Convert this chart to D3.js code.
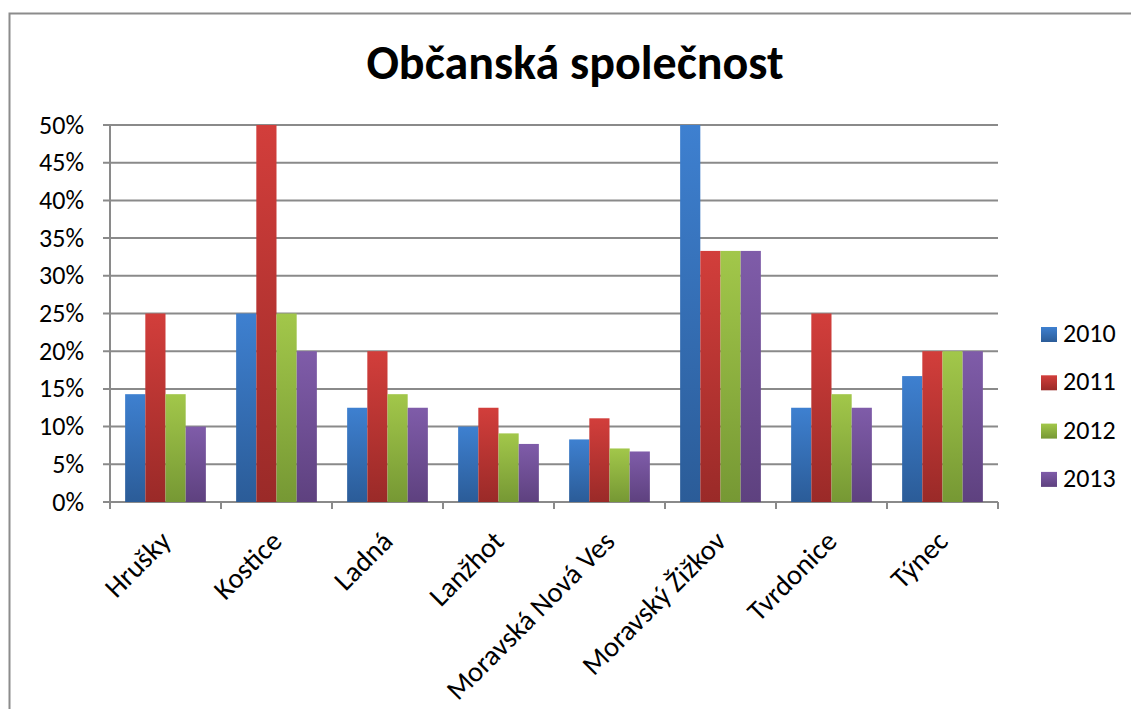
<!DOCTYPE html>
<html>
<head>
<meta charset="utf-8">
<script src="https://cdn.jsdelivr.net/npm/d3@7"></script>
<style>
  body { margin: 0; background: #fff; }
  text { font-family: Carlito, Calibri, "Liberation Sans", sans-serif; }
</style>
</head>
<body>
<svg id="chart" width="1131" height="709"></svg>
<script>
const categories = ['Hrušky', 'Kostice', 'Ladná', 'Lanžhot', 'Moravská Nová Ves', 'Moravský Žižkov', 'Tvrdonice', 'Týnec']
const years = ['2010', '2011', '2012', '2013']
const values2010 = [0.143, 0.25, 0.125, 0.10, 0.083, 0.50, 0.125, 0.167]
const values2011 = [0.25, 0.50, 0.20, 0.125, 0.111, 0.333, 0.25, 0.20]
const values2012 = [0.143, 0.25, 0.143, 0.091, 0.071, 0.333, 0.143, 0.20]
const values2013 = [0.10, 0.20, 0.125, 0.077, 0.067, 0.333, 0.125, 0.20]
const yTicks = [0, 0.05, 0.1, 0.15, 0.2, 0.25, 0.3, 0.35, 0.4, 0.45, 0.5]

const series = [values2010, values2011, values2012, values2013]
// top / bottom colours for the vertical gradient of each year
const colors = [
  ['#3e80d0', '#2b5c98'],
  ['#d23e3b', '#9a2a28'],
  ['#a2c74a', '#769834'],
  ['#7f5ca9', '#5e417f']
]

const svg = d3.select('#chart')
const margins = { left: 110, top: 125, right: 133, bottom: 207 }
const width = 1131 - margins.left - margins.right
const height = 709 - margins.top - margins.bottom

// outer chart frame
svg.append('rect')
  .attr('x', 9.5).attr('y', 13.5)
  .attr('width', 1140).attr('height', 720)
  .attr('fill', 'none')
  .attr('stroke', '#8c8c8c')
  .attr('stroke-width', 2)

const defs = svg.append('defs')
colors.forEach((c, i) => {
  const g = defs.append('linearGradient')
    .attr('id', 'grad' + i)
    .attr('x1', 0).attr('y1', 0).attr('x2', 0).attr('y2', 1)
  g.append('stop').attr('offset', '0%').attr('stop-color', c[0])
  g.append('stop').attr('offset', '100%').attr('stop-color', c[1])
})

svg.append('text')
  .attr('x', 575).attr('y', 79)
  .attr('text-anchor', 'middle')
  .attr('font-size', 48)
  .attr('font-weight', 'bold')
  .text('Občanská společnost')

const wrapper = svg.append('g')
  .attr('transform', `translate(${margins.left}, ${margins.top})`)

const x0 = d3.scaleBand().domain(categories).range([0, width]).paddingInner(0).paddingOuter(0)
const groupWidth = x0.bandwidth() * 8 / 11
const x1 = d3.scaleBand().domain(years).range([0, groupWidth])
const y = d3.scaleLinear().domain([0, 0.5]).range([height, 0])

// gridlines
wrapper.append('g')
  .selectAll('line')
  .data(yTicks)
  .join('line')
  .attr('x1', -7).attr('x2', width)
  .attr('y1', d => y(d)).attr('y2', d => y(d))
  .attr('stroke', '#8a8a8a')
  .attr('stroke-width', 2)

// bars
const groups = wrapper.selectAll('.group')
  .data(categories)
  .join('g')
  .attr('class', 'group')
  .attr('transform', d => `translate(${x0(d) + (x0.bandwidth() - groupWidth) / 2}, 0)`)

groups.selectAll('rect')
  .data((d, i) => series.map((s, j) => ({ year: years[j], v: s[i], j })))
  .join('rect')
  .attr('x', d => x1(d.year))
  .attr('width', x1.bandwidth())
  .attr('y', d => y(d.v))
  .attr('height', d => height - y(d.v))
  .attr('fill', d => `url(#grad${d.j})`)

// axes
wrapper.append('line')
  .attr('x1', 0).attr('x2', 0).attr('y1', 0).attr('y2', height)
  .attr('stroke', '#8a8a8a').attr('stroke-width', 2)

wrapper.append('g')
  .selectAll('line')
  .data(d3.range(categories.length + 1))
  .join('line')
  .attr('x1', i => i * x0.bandwidth()).attr('x2', i => i * x0.bandwidth())
  .attr('y1', height).attr('y2', height + 7)
  .attr('stroke', '#8a8a8a').attr('stroke-width', 2)

wrapper.append('g')
  .selectAll('text')
  .data(yTicks)
  .join('text')
  .attr('x', -26)
  .attr('y', d => y(d) + 8.5)
  .attr('text-anchor', 'end')
  .attr('font-size', 26)
  .text(d => d3.format('.0%')(d))

wrapper.append('g')
  .selectAll('text')
  .data(categories)
  .join('text')
  .attr('text-anchor', 'end')
  .attr('font-size', 28.5)
  .attr('transform', d => `translate(${x0(d) + x0.bandwidth() / 2 + 7}, ${height + 41}) rotate(-45)`)
  .text(d => d)

// legend
const legend = svg.append('g').attr('transform', 'translate(1041, 327)')
years.forEach((yr, i) => {
  legend.append('rect')
    .attr('x', 0).attr('y', i * 48.3)
    .attr('width', 16).attr('height', 15)
    .attr('fill', `url(#grad${i})`)
  legend.append('text')
    .attr('x', 22).attr('y', i * 48.3 + 15)
    .attr('font-size', 26)
    .text(yr)
})
</script>
</body>
</html>
